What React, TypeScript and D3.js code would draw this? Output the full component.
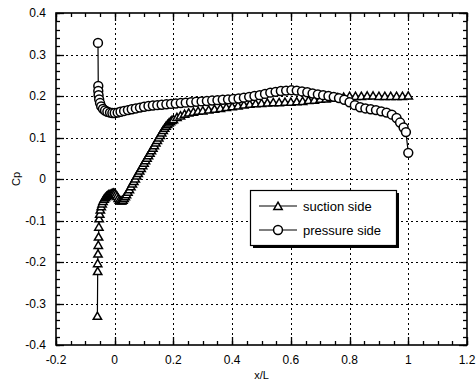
import React, { useEffect, useRef } from "react";
import * as d3 from "d3";

const xTicks = [-0.2, 0, 0.2, 0.4, 0.6, 0.8, 1, 1.2];
const yTicks = [-0.4, -0.3, -0.2, -0.1, 0, 0.1, 0.2, 0.3, 0.4];
const seriesNames = ["suction side", "pressure side"];

// suction side (triangles): [x/L, Cp]
const suctionX = [
  -0.059, -0.058, -0.058, -0.057, -0.056, -0.055, -0.054, -0.053, -0.051, -0.049,
  -0.046, -0.043, -0.04, -0.036, -0.032, -0.028, -0.024, -0.02, -0.016, -0.012,
  -0.008, -0.004, 0.0, 0.004, 0.008, 0.012, 0.016, 0.02, 0.024, 0.028,
  0.032, 0.036, 0.04, 0.045, 0.05, 0.055, 0.06, 0.065, 0.07, 0.075,
  0.08, 0.085, 0.09, 0.095, 0.1, 0.105, 0.11, 0.115, 0.12, 0.125,
  0.13, 0.135, 0.14, 0.145, 0.15, 0.155, 0.16, 0.165, 0.17, 0.175,
  0.18, 0.185, 0.19, 0.195, 0.2, 0.212, 0.224, 0.238, 0.252, 0.268,
  0.284, 0.3, 0.32, 0.34, 0.36, 0.38, 0.4, 0.42, 0.44, 0.46,
  0.48, 0.5, 0.52, 0.54, 0.56, 0.58, 0.6, 0.62, 0.64, 0.66,
  0.68, 0.7, 0.72, 0.74, 0.76, 0.78, 0.8, 0.82, 0.84, 0.86,
  0.88, 0.9, 0.92, 0.94, 0.96, 0.98, 1.0,
];
const suctionCp = [
  -0.33, -0.222, -0.203, -0.18, -0.159, -0.139, -0.115, -0.095, -0.084, -0.074,
  -0.066, -0.059, -0.053, -0.048, -0.044, -0.041, -0.039, -0.037, -0.036, -0.035,
  -0.034, -0.033, -0.034, -0.037, -0.041, -0.046, -0.05, -0.052, -0.052, -0.05,
  -0.046, -0.042, -0.037, -0.031, -0.025, -0.018, -0.011, -0.005, 0.001, 0.008,
  0.014, 0.02, 0.026, 0.033, 0.039, 0.045, 0.051, 0.057, 0.063, 0.069,
  0.075, 0.081, 0.088, 0.094, 0.1, 0.106, 0.112, 0.118, 0.123, 0.128,
  0.132, 0.136, 0.139, 0.142, 0.144, 0.149, 0.153, 0.157, 0.16, 0.162,
  0.164, 0.165, 0.167, 0.169, 0.171, 0.173, 0.175, 0.177, 0.179, 0.181,
  0.182, 0.183, 0.184, 0.185, 0.185, 0.186, 0.186, 0.187, 0.188, 0.19,
  0.191, 0.193, 0.194, 0.196, 0.197, 0.198, 0.2, 0.2, 0.2, 0.201,
  0.201, 0.2, 0.2, 0.2, 0.2, 0.2, 0.201,
];

// pressure side (circles): [x/L, Cp]
const pressureX = [
  -0.057, -0.056, -0.056, -0.055, -0.053, -0.05, -0.046, -0.04, -0.033, -0.025,
  -0.016, -0.008, 0.0, 0.01, 0.02, 0.032, 0.045, 0.058, 0.072, 0.086,
  0.1, 0.115, 0.13, 0.145, 0.16, 0.176, 0.192, 0.208, 0.225, 0.242,
  0.26, 0.278, 0.296, 0.314, 0.332, 0.35, 0.368, 0.386, 0.404, 0.422,
  0.44, 0.458, 0.476, 0.494, 0.512, 0.53, 0.548, 0.566, 0.584, 0.602,
  0.62, 0.638, 0.656, 0.674, 0.692, 0.71, 0.728, 0.746, 0.764, 0.782,
  0.8, 0.818, 0.836, 0.854, 0.872, 0.89, 0.908, 0.926, 0.944, 0.96,
  0.972, 0.984, 0.992, 1.0,
];
const pressureCp = [
  0.328, 0.224, 0.212, 0.202, 0.192, 0.183, 0.175, 0.169, 0.165, 0.162,
  0.16, 0.159, 0.159, 0.16, 0.162, 0.164, 0.166, 0.168, 0.17, 0.172,
  0.174, 0.176, 0.177, 0.178, 0.179, 0.18, 0.181, 0.182, 0.183, 0.184,
  0.185, 0.186, 0.187, 0.188, 0.189, 0.19, 0.191, 0.192, 0.193, 0.194,
  0.196, 0.198, 0.2, 0.202, 0.205, 0.208, 0.21, 0.212, 0.213, 0.214,
  0.213, 0.211, 0.209, 0.206, 0.204, 0.202, 0.2, 0.198, 0.195, 0.191,
  0.185, 0.178, 0.173, 0.17, 0.168, 0.166, 0.163, 0.16, 0.155, 0.147,
  0.136, 0.124, 0.113, 0.063,
];

function Chart() {
  const svgRef = useRef<SVGSVGElement>(null);

  useEffect(() => {
    const width = 476;
    const height = 386;
    const margin = { top: 13, right: 9, bottom: 41, left: 56 };
    const svg = d3.select(svgRef.current);
    svg.selectAll("*").remove();
    svg.attr("width", width).attr("height", height);

    const x = d3.scaleLinear().domain([-0.2, 1.2]).range([margin.left, width - margin.right]);
    const y = d3.scaleLinear().domain([-0.4, 0.4]).range([height - margin.bottom, margin.top]);
    const font = "'Liberation Sans', Arial, sans-serif";
    const [x0, x1] = x.range();
    const [y0, y1] = y.range();

    // grid
    const grid = svg.append("g").attr("stroke", "#000").attr("stroke-width", 1).attr("stroke-dasharray", "2,3");
    grid.selectAll(".gx")
      .data(xTicks.slice(1, -1))
      .enter().append("line")
      .attr("x1", d => Math.round(x(d)) + 0.5).attr("x2", d => Math.round(x(d)) + 0.5)
      .attr("y1", y1).attr("y2", y0);
    grid.selectAll(".gy")
      .data(yTicks.slice(1, -1))
      .enter().append("line")
      .attr("y1", d => Math.round(y(d)) + 0.5).attr("y2", d => Math.round(y(d)) + 0.5)
      .attr("x1", x0).attr("x2", x1);

    // inward ticks on all sides
    const xMinor = d3.range(-0.2, 1.2001, 0.05);
    const yMinor = d3.range(-0.4, 0.4001, 0.02);
    const ticks = svg.append("g").attr("stroke", "#000").attr("stroke-width", 1.3);
    const addX = (vals: number[], len: number) => {
      vals.forEach(v => {
        const px = Math.round(x(v)) + 0.5;
        ticks.append("line").attr("x1", px).attr("x2", px).attr("y1", y0).attr("y2", y0 - len);
        ticks.append("line").attr("x1", px).attr("x2", px).attr("y1", y1).attr("y2", y1 + len);
      });
    };
    const addY = (vals: number[], len: number) => {
      vals.forEach(v => {
        const py = Math.round(y(v)) + 0.5;
        ticks.append("line").attr("y1", py).attr("y2", py).attr("x1", x0).attr("x2", x0 + len);
        ticks.append("line").attr("y1", py).attr("y2", py).attr("x1", x1).attr("x2", x1 - len);
      });
    };
    addX(xMinor, 4);
    addX(xTicks, 8);
    addY(yMinor, 4);
    addY(yTicks, 8);

    // frame
    svg.append("rect")
      .attr("x", x0).attr("y", y1)
      .attr("width", x1 - x0).attr("height", y0 - y1)
      .attr("fill", "none").attr("stroke", "#000").attr("stroke-width", 1.6);

    // tick labels
    svg.append("g").selectAll("text")
      .data(xTicks)
      .enter().append("text")
      .attr("x", d => x(d))
      .attr("y", y0 + 19)
      .attr("text-anchor", "middle")
      .attr("font-family", font).attr("font-size", 12)
      .text(d => String(d));
    svg.append("g").selectAll("text")
      .data(yTicks)
      .enter().append("text")
      .attr("x", x0 - 10)
      .attr("y", d => y(d) + 4)
      .attr("text-anchor", "end")
      .attr("font-family", font).attr("font-size", 12)
      .text(d => String(d));

    // axis titles
    svg.append("text")
      .attr("x", (x0 + x1) / 2).attr("y", y0 + 34)
      .attr("text-anchor", "middle")
      .attr("font-family", font).attr("font-size", 11)
      .text("x/L");
    svg.append("text")
      .attr("transform", `translate(20,${(y0 + y1) / 2}) rotate(-90)`)
      .attr("text-anchor", "middle")
      .attr("font-family", font).attr("font-size", 11)
      .text("Cp");

    const line = d3.line<[number, number]>().x(d => x(d[0])).y(d => y(d[1]));
    const suction: [number, number][] = suctionX.map((v, i) => [v, suctionCp[i]]);
    const pressure: [number, number][] = pressureX.map((v, i) => [v, pressureCp[i]]);
    const tri = d3.symbol().type(d3.symbolTriangle).size(30);
    const circ = d3.symbol().type(d3.symbolCircle).size(62);

    const plot = svg.append("g");
    plot.append("path").attr("d", line(suction)).attr("fill", "none").attr("stroke", "#000").attr("stroke-width", 1.2);
    plot.append("path").attr("d", line(pressure)).attr("fill", "none").attr("stroke", "#000").attr("stroke-width", 1.2);
    plot.selectAll(".tri")
      .data(suction)
      .enter().append("path")
      .attr("transform", d => `translate(${x(d[0])},${y(d[1]) + 1})`)
      .attr("d", tri)
      .attr("fill", "#fff").attr("stroke", "#000").attr("stroke-width", 1.5);
    plot.selectAll(".circ")
      .data(pressure)
      .enter().append("path")
      .attr("transform", d => `translate(${x(d[0])},${y(d[1])})`)
      .attr("d", circ)
      .attr("fill", "#fff").attr("stroke", "#000").attr("stroke-width", 1.5);

    // legend
    const lg = svg.append("g").attr("transform", "translate(250,190)");
    lg.append("rect").attr("x", 3).attr("y", 3).attr("width", 146).attr("height", 55).attr("fill", "#000");
    lg.append("rect").attr("x", 0.5).attr("y", 0.5).attr("width", 146).attr("height", 55)
      .attr("fill", "#fff").attr("stroke", "#000").attr("stroke-width", 1.2);
    const items = lg.selectAll(".item")
      .data(seriesNames)
      .enter().append("g")
      .attr("transform", (d, i) => `translate(0,${16 + i * 24})`);
    items.append("line").attr("x1", 9).attr("x2", 47).attr("y1", 0).attr("y2", 0)
      .attr("stroke", "#000").attr("stroke-width", 1.2);
    items.append("path")
      .attr("transform", (d, i) => `translate(28,${i === 0 ? 1 : 0})`)
      .attr("d", (d, i) => (i === 0 ? tri() : circ()))
      .attr("fill", "#fff").attr("stroke", "#000").attr("stroke-width", 1.5);
    items.append("text")
      .attr("x", 53).attr("y", 4.5)
      .attr("font-family", font).attr("font-size", 13)
      .text(d => d);
  }, []);

  return <svg ref={svgRef} style={{ position: "absolute", left: 0, top: 0 }}></svg>;
}

export default function App() {
  return <Chart />;
}
